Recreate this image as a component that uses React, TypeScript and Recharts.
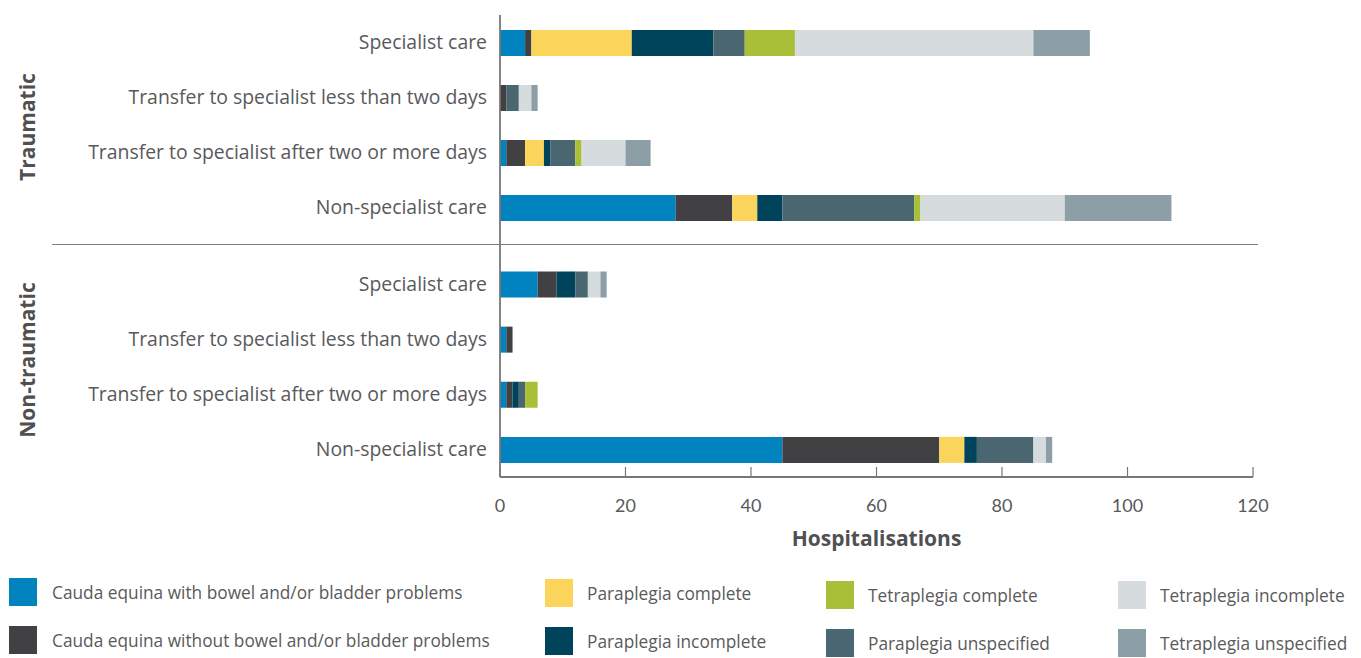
import React from "react";
import { BarChart, Bar, XAxis, YAxis } from "recharts";

// rows, top to bottom inside each group
const categories = [
  "Specialist care",
  "Transfer to specialist less than two days",
  "Transfer to specialist after two or more days",
  "Non-specialist care",
];

const seriesKeys = ["ceWith", "ceWithout", "paraComplete", "paraIncomplete", "paraUnspec", "tetraComplete", "tetraIncomplete", "tetraUnspec"];
const seriesNames = [
  "Cauda equina with bowel and/or bladder problems",
  "Cauda equina without bowel and/or bladder problems",
  "Paraplegia complete",
  "Paraplegia incomplete",
  "Paraplegia unspecified",
  "Tetraplegia complete",
  "Tetraplegia incomplete",
  "Tetraplegia unspecified",
];
const COLORS = ["#0083be", "#414042", "#fbd45c", "#00445b", "#4a6670", "#a9bf38", "#d6dbde", "#8c9fa7"];

// Traumatic
const tCeWith = [4, 0, 1, 28];
const tCeWithout = [1, 1, 3, 9];
const tParaComplete = [16, 0, 3, 4];
const tParaIncomplete = [13, 0, 1, 4];
const tParaUnspec = [5, 2, 4, 21];
const tTetraComplete = [8, 0, 1, 1];
const tTetraIncomplete = [38, 2, 7, 23];
const tTetraUnspec = [9, 1, 4, 17];

// Non-traumatic
const nCeWith = [6, 1, 1, 45];
const nCeWithout = [3, 1, 1, 25];
const nParaComplete = [0, 0, 0, 4];
const nParaIncomplete = [3, 0, 1, 2];
const nParaUnspec = [2, 0, 1, 9];
const nTetraComplete = [0, 0, 2, 0];
const nTetraIncomplete = [2, 0, 0, 2];
const nTetraUnspec = [1, 0, 0, 1];

const xTicks = [0, 20, 40, 60, 80, 100, 120];

// legend order, column by column
const legendOrder = [0, 1, 2, 3, 5, 4, 6, 7];

const build = (cols: number[][]) =>
  categories.map((name, i) => {
    const row: any = { name };
    seriesKeys.forEach((k, j) => (row[k] = cols[j][i]));
    return row;
  });

const traumatic = build([tCeWith, tCeWithout, tParaComplete, tParaIncomplete, tParaUnspec, tTetraComplete, tTetraIncomplete, tTetraUnspec]);
const nonTraumatic = build([nCeWith, nCeWithout, nParaComplete, nParaIncomplete, nParaUnspec, nTetraComplete, nTetraIncomplete, nTetraUnspec]);

const AXIS = "#777777";
const TEXT = "#58595b";
const FONT = "'Open Sans', Lato, sans-serif";

const XTick = (props: any) => {
  const { x, y, payload } = props;
  return (
    <g>
      <line x1={x} x2={x} y1={y - 10} y2={y} stroke={AXIS} strokeWidth={1.2} />
      <text x={x} y={y + 35} textAnchor="middle" fill={TEXT} fontSize={18} fontFamily="Lato, sans-serif">
        {payload.value}
      </text>
    </g>
  );
};

const bars = () =>
  seriesKeys.map((k, i) => (
    <Bar key={k} dataKey={k} name={seriesNames[i]} stackId="a" fill={COLORS[i]} barSize={26} isAnimationActive={false} />
  ));

const SideLabel = ({ text, cy }: { text: string; cy: number }) => (
  <div
    style={{
      position: "absolute",
      left: 27,
      top: cy,
      transform: "translate(-50%, -50%) rotate(-90deg)",
      fontSize: 21,
      fontWeight: 700,
      color: "#505050",
      whiteSpace: "nowrap",
    }}
  >
    {text}
  </div>
);

export default function App() {
  const colX = [9, 545, 826, 1118];
  const colDy = [0, 1, 3, 3];
  return (
    <div style={{ position: "absolute", left: 0, top: 0, width: 1361, height: 658, fontFamily: FONT, background: "#fff" }}>
      <div style={{ position: "absolute", left: 0, top: 0 }}>
        <BarChart width={1361} height={245} data={traumatic} layout="vertical" margin={{ top: 15, right: 108, bottom: 0, left: 50 }}>
          <XAxis type="number" domain={[0, 120]} ticks={xTicks} hide />
          <YAxis
            type="category"
            dataKey="name"
            width={450}
            padding={{ top: 0, bottom: 10 }}
            tickLine={false}
            tickSize={0}
            tickMargin={13}
            axisLine={{ stroke: AXIS, strokeWidth: 1.8 }}
            tick={{ fill: TEXT, fontSize: 19.4 }}
          />
          {bars()}
        </BarChart>
      </div>

      <div style={{ position: "absolute", left: 0, top: 245 }}>
        <BarChart width={1361} height={320} data={nonTraumatic} layout="vertical" margin={{ top: 0, right: 108, bottom: 8, left: 50 }}>
          <XAxis
            type="number"
            domain={[0, 120]}
            ticks={xTicks}
            height={80}
            tickLine={false}
            tickSize={0}
            tickMargin={0}
            axisLine={{ stroke: AXIS, strokeWidth: 1.8 }}
            tick={<XTick />}
            label={{ value: "Hospitalisations", position: "insideBottom", offset: 11, fill: "#505050", fontSize: 21, fontWeight: 700 }}
          />
          <YAxis
            type="category"
            dataKey="name"
            width={450}
            padding={{ top: 11.5, bottom: 0 }}
            tickLine={false}
            tickSize={0}
            tickMargin={13}
            axisLine={{ stroke: AXIS, strokeWidth: 1.8 }}
            tick={{ fill: TEXT, fontSize: 19.4 }}
          />
          {bars()}
        </BarChart>
      </div>

      {/* group separator */}
      <div style={{ position: "absolute", left: 52, top: 243.5, width: 1206, height: 1.8, background: "#808080" }} />

      <SideLabel text="Traumatic" cy={127} />
      <SideLabel text="Non-traumatic" cy={360} />

      {legendOrder.map((s, i) => {
        const col = Math.floor(i / 2);
        const row = i % 2;
        const top = 578 + row * 48 + colDy[col];
        return (
          <div key={s} style={{ position: "absolute", left: colX[col], top, display: "flex", alignItems: "center", height: 28 }}>
            <div style={{ width: 28, height: 28, background: COLORS[s], marginRight: col === 0 ? 15 : 14 }} />
            <span style={{ fontSize: 17.3, color: "#5a5a5a", whiteSpace: "nowrap" }}>{seriesNames[s]}</span>
          </div>
        );
      })}
    </div>
  );
}
